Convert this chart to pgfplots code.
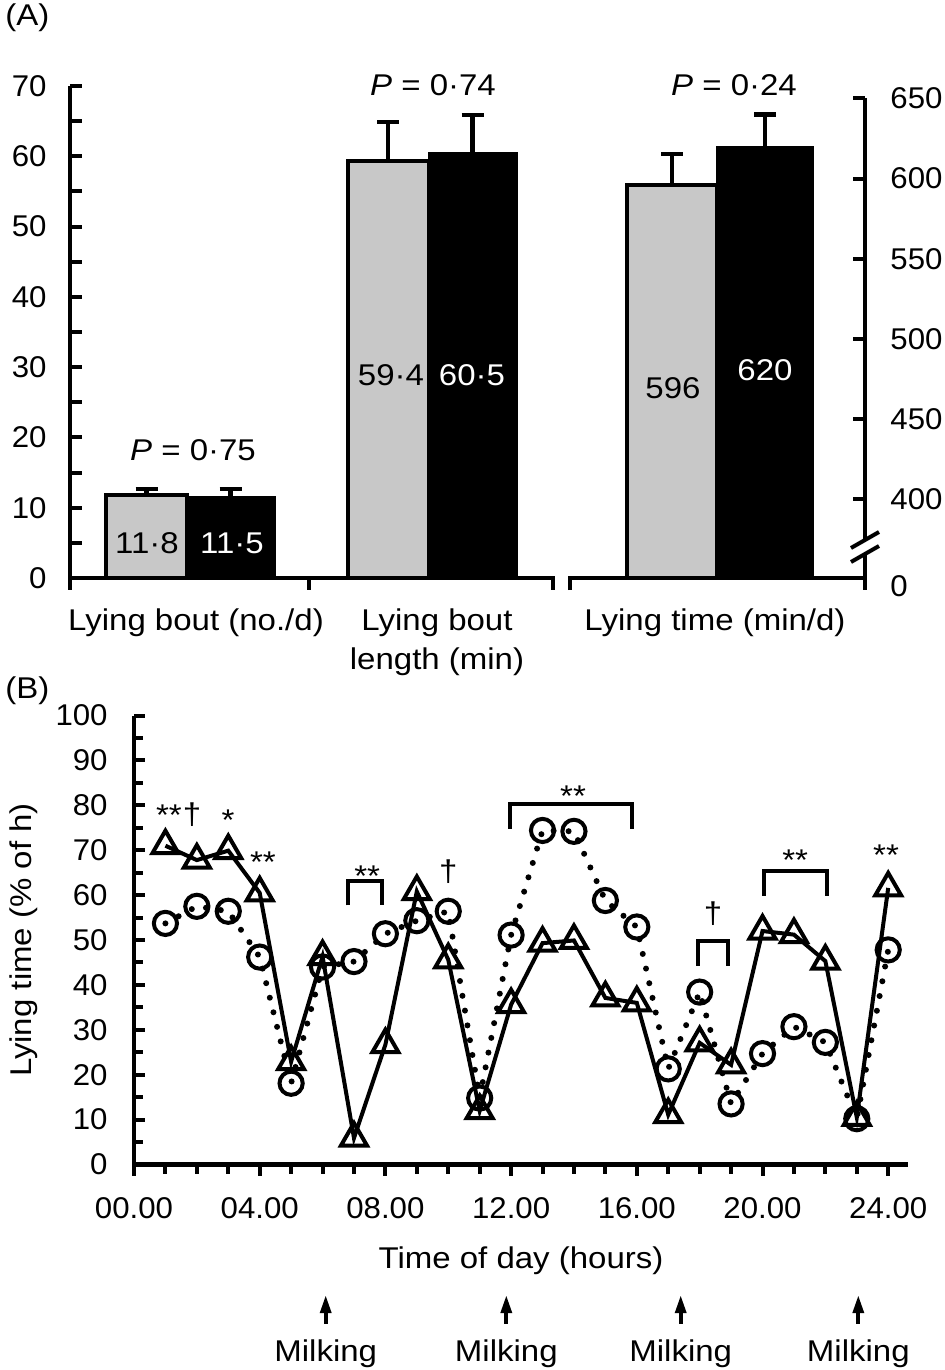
\documentclass[border=0pt]{standalone}
\usepackage{fontspec}
\setmainfont{Liberation Sans}[FakeStretch=1.1]
\newfontfamily\tickfont{Liberation Sans}[FakeStretch=1.04]
\usepackage{pgfplots}
\pgfplotsset{compat=1.18}
\definecolor{bargray}{RGB}{200,200,200}
\newcommand{\fs}{\fontsize{15pt}{18pt}\selectfont}
\newcommand{\tfs}{\tickfont\fontsize{15pt}{18pt}\selectfont}

\begin{document}
\fs
\begin{tikzpicture}[font=\fs]
\path[use as bounding box] (0,0) rectangle (472.5pt,-685pt);

\pgfplotsset{
  every tick/.append style={black, line width=2pt},
  every minor tick/.append style={black, line width=2pt},
  /pgf/number format/assume math mode=true,
  tick label style={font=\tfs},
  ebars/.style={error bars/.cd, y dir=plus, y explicit,
    error mark options={rotate=90, mark size=5.5pt, line width=2.2pt, black},
    error bar style={line width=2.2pt, black}},
}

% ---------- Panel A, left scale ----------
\begin{axis}[
  at={(35pt,-289pt)}, anchor=south west,
  scale only axis, width=397.5pt, height=246pt,
  xmin=0, xmax=795, ymin=0, ymax=70,
  axis x line=none, axis y line*=left,
  y axis line style={draw=none},
  ytick={0,10,...,70}, minor ytick={5,15,...,65},
  ytick align=inside,
  major tick length=5.8pt, minor tick length=5.8pt,
  yticklabel style={anchor=east, inner sep=0pt, xshift=-11.5pt},
  clip=false,
]
\addplot[ybar, bar shift=0pt, bar width=81, fill=bargray, draw=black, line width=2pt, ebars]
  coordinates {(76.5,11.8) +- (0,0.85) (318,59.4) +- (0,5.5)};
\addplot[ybar, bar shift=0pt, bar width=88, fill=black, draw=black, line width=1pt, ebars]
  coordinates {(160.5,11.5) +- (0,1.15) (402.5,60.5) +- (0,5.4)};
\end{axis}

% ---------- Panel A, right scale ----------
\begin{axis}[
  at={(35pt,-289pt)}, anchor=south west,
  scale only axis, width=397.5pt, height=246pt,
  xmin=0, xmax=795, ymin=350.7, ymax=657.8,
  axis x line=none, axis y line*=right,
  y axis line style={draw=none},
  ytick={400,450,...,650},
  ytick align=inside,
  major tick length=6pt,
  yticklabel style={anchor=west, inner sep=0pt, xshift=12.5pt},
]
\addplot[ybar, bar shift=0pt, bar width=90, fill=bargray, draw=black, line width=2pt, ebars]
  coordinates {(602,596) +- (0,19.5)};
\addplot[ybar, bar shift=0pt, bar width=96, fill=black, draw=black, line width=1pt, ebars]
  coordinates {(695,620) +- (0,20)};
\end{axis}

% ---------- Panel B ----------
\begin{axis}[
  at={(67pt,-582.25pt)}, anchor=south west,
  scale only axis, width=387pt, height=224.5pt,
  xmin=0, xmax=24.63, ymin=0, ymax=100,
  axis x line*=bottom, axis y line*=left,
  axis line style={line width=2.2pt},
  xtick={0,4,...,24}, xticklabels={00.00,04.00,08.00,12.00,16.00,20.00,24.00},
  minor xtick={1,2,3,5,6,7,9,10,11,13,14,15,17,18,19,21,22,23},
  ytick={0,10,...,100}, minor ytick={5,15,...,95},
  xtick align=outside, ytick align=inside,
  major tick length=5.5pt, minor tick length=4.5pt,
  yticklabel style={anchor=east, inner sep=0pt, xshift=-13pt},
  xticklabel style={anchor=base, inner sep=0pt, yshift=-21.25pt},
  xlabel={Time of day (hours)}, ylabel={Lying time (\% of h)},
  xlabel style={at={(axis description cs:0.5,0)}, anchor=base, inner sep=0pt, yshift=-51.75pt},
  ylabel style={at={(axis description cs:-0.142,0.5)}, anchor=center, inner sep=0pt},
  clip=false,
]
% circles, dotted
\addplot[line width=3pt, dash pattern=on 0pt off 7.5pt, line cap=round,
  mark=o, mark size=5.8pt, mark options={solid, line width=2pt}]
  coordinates {
  (1,53.7) (2,57.5) (3,56.4) (4,46.2) (5,18.1) (6,44.0) (7,45.2) (8,51.4)
  (9,54.3) (10,56.4) (11,14.8) (12,51.1) (13,74.4) (14,74.2) (15,58.8) (16,52.9)
  (17,21.3) (18,38.4) (19,13.5) (20,24.7) (21,30.7) (22,27.2) (23,10.2) (24,47.8)};
% triangles, solid
\addplot[line width=2pt, mark=triangle, mark size=7.5pt, mark options={solid, line width=2pt}]
  coordinates {
  (1,71.0) (2,67.8) (3,69.9) (4,60.5) (5,22.9) (6,46.3) (7,5.9) (8,26.7)
  (9,60.8) (10,45.6) (11,12.0) (12,35.6) (13,49.3) (14,49.9) (15,37.1) (16,36.0)
  (17,11.1) (18,27.1) (19,22.2) (20,52.0) (21,51.2) (22,45.3) (23,10.5) (24,61.6)};
% significance marks
\node[anchor=base] at (axis cs:1.11,75.6) {**};
\node[anchor=base] at (axis cs:1.85,75.8) {†};
\node[anchor=base] at (axis cs:2.99,74.5) {*};
\node[anchor=base] at (axis cs:4.1,65.1) {**};
\node[anchor=base] at (axis cs:7.42,62.0) {**};
\node[anchor=base] at (axis cs:10.0,63.1) {†};
\node[anchor=base] at (axis cs:13.97,79.8) {**};
\node[anchor=base] at (axis cs:18.43,53.6) {†};
\node[anchor=base] at (axis cs:21.04,65.4) {**};
\node[anchor=base] at (axis cs:23.93,66.5) {**};
\draw[line width=2pt] (axis cs:6.81,57.7) -- (axis cs:6.81,63.1) -- (axis cs:7.89,63.1) -- (axis cs:7.89,57.7);
\draw[line width=2pt] (axis cs:11.97,74.8) -- (axis cs:11.97,80.4) -- (axis cs:15.85,80.4) -- (axis cs:15.85,74.8);
\draw[line width=2pt] (axis cs:17.95,44.3) -- (axis cs:17.95,49.7) -- (axis cs:18.9,49.7) -- (axis cs:18.9,44.3);
\draw[line width=2pt] (axis cs:20.05,59.9) -- (axis cs:20.05,65.3) -- (axis cs:22.06,65.3) -- (axis cs:22.06,59.9);
\end{axis}

% ---------- decorations and labels (pixel grid) ----------
\begin{scope}[x=0.5pt, y=-0.5pt]
  \draw[line width=2pt] (70,86) -- (70,590);
  \draw[line width=2pt] (70,578) -- (553,578) -- (553,590);
  \draw[line width=2pt] (309,578) -- (309,590);
  \draw[line width=2pt] (570,590) -- (570,578) -- (865,578);
  \draw[line width=2pt] (865,98.5) -- (865,540);
  \draw[line width=2pt] (865,554) -- (865,590);
  \draw[line width=2pt] (851,548) -- (879,532);
  \draw[line width=2pt] (851,562) -- (879,546);
  \node[anchor=base west, inner sep=0pt, font=\tfs] at (890,596) {0};

  \node[anchor=base west, inner sep=0pt] at (5,26) {(A)};
  \node[anchor=base west, inner sep=0pt] at (5,698) {(B)};

  \node[anchor=base] at (147,553) {11·8};
  \node[anchor=base, text=white] at (232,553) {11·5};
  \node[anchor=base] at (391,385) {59·4};
  \node[anchor=base, text=white] at (472,385) {60·5};
  \node[anchor=base] at (673,398) {596};
  \node[anchor=base, text=white] at (765,380) {620};

  \node[anchor=base] at (193,460) {{\itshape P} = 0·75};
  \node[anchor=base] at (433,95.5) {{\itshape P} = 0·74};
  \node[anchor=base] at (734,95.5) {{\itshape P} = 0·24};

  \node[anchor=base] at (196,630) {Lying bout (no./d)};
  \node[anchor=base] at (437,630) {Lying bout};
  \node[anchor=base] at (437,669) {length (min)};
  \node[anchor=base] at (715,630) {Lying time (min/d)};

  \foreach \mx in {325.7,506.3,680.7,858.3} {
    \fill (\mx-6,1313) -- (\mx+6,1313) -- (\mx,1296) -- cycle;
    \draw[line width=2pt] (\mx,1310) -- (\mx,1324);
    \node[anchor=base] at (\mx,1361) {Milking};
  }
\end{scope}
\end{tikzpicture}
\end{document}
